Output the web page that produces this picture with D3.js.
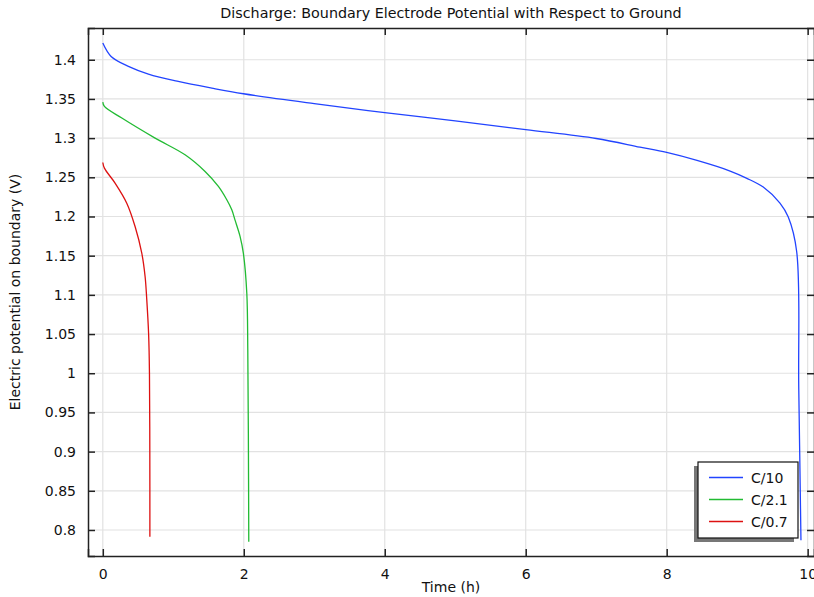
<!DOCTYPE html>
<html>
<head>
<meta charset="utf-8">
<script src="https://cdn.jsdelivr.net/npm/d3@7"></script>
<style>
  html, body { margin: 0; padding: 0; background: #fff; }
  svg { display: block; font-family: "DejaVu Sans", sans-serif; }
</style>
</head>
<body>
<svg id="chart" width="814" height="597"></svg>
<script>
// ---- Data ----
const seriesNames = ["C/10", "C/2.1", "C/0.7"];
const seriesColors = ["#2244ff", "#22bb33", "#dd1111"];

const c10Time = [0, 0.118, 0.363, 0.647, 1.07, 1.546, 1.995, 3, 4, 5, 6, 7, 7.62, 8, 8.43, 8.9, 9.13, 9.37, 9.607, 9.725, 9.844, 9.874, 9.905];
const c10Volt = [1.4213, 1.4042, 1.3915, 1.3817, 1.3723, 1.3638, 1.3566, 1.3440, 1.3325, 1.3220, 1.3108, 1.2995, 1.2885, 1.2817, 1.2715, 1.2580, 1.2490, 1.2375, 1.2170, 1.1992, 1.1553, 0.980, 0.787];

const c21Time = [0, 0.023, 0.27, 0.742, 1.167, 1.451, 1.64, 1.759, 1.83, 1.875, 1.948, 1.994, 2.043, 2.057, 2.065, 2.071];
const c21Volt = [1.346, 1.3404, 1.3256, 1.300, 1.2787, 1.2574, 1.2383, 1.2213, 1.2085, 1.1957, 1.1744, 1.1532, 1.1021, 1.0298, 0.9234, 0.785];

const c07Time = [0, 0.023, 0.174, 0.34, 0.458, 0.553, 0.6, 0.624, 0.65, 0.662, 0.667, 0.668];
const c07Volt = [1.2689, 1.2617, 1.2426, 1.2170, 1.1872, 1.1532, 1.1234, 1.0936, 1.050, 1.000, 0.900, 0.7915];

const xTicks = [0, 2, 4, 6, 8, 10];
const yTicks = [0.8, 0.85, 0.9, 0.95, 1, 1.05, 1.1, 1.15, 1.2, 1.25, 1.3, 1.35, 1.4];
const yTickLabels = ["0.8", "0.85", "0.9", "0.95", "1", "1.05", "1.1", "1.15", "1.2", "1.25", "1.3", "1.35", "1.4"];

const titleText = "Discharge: Boundary Electrode Potential with Respect to Ground";
const xLabel = "Time (h)";
const yLabel = "Electric potential on boundary (V)";

// ---- Layout ----
const L = 88, T = 28, R = 814, B = 556;
const FS = 14;
const svg = d3.select("#chart");

const x = d3.scaleLinear().domain([-0.21, 10.09]).range([L, R]);
const y = d3.scaleLinear().domain([0.7668, 1.4405]).range([B, T]);

// gridlines
const grid = svg.append("g");
grid.selectAll("line.gx").data(xTicks).enter().append("line")
  .attr("x1", d => x(d)).attr("x2", d => x(d)).attr("y1", T).attr("y2", B)
  .attr("stroke", "#e2e2e2").attr("stroke-width", 1.2);
grid.selectAll("line.gy").data(yTicks).enter().append("line")
  .attr("x1", L).attr("x2", R).attr("y1", d => y(d)).attr("y2", d => y(d))
  .attr("stroke", "#e2e2e2").attr("stroke-width", 1.2);

// series
const series = [
  { name: seriesNames[0], color: seriesColors[0], t: c10Time, v: c10Volt },
  { name: seriesNames[1], color: seriesColors[1], t: c21Time, v: c21Volt },
  { name: seriesNames[2], color: seriesColors[2], t: c07Time, v: c07Volt }
];
const line = d3.line().x(d => x(d[0])).y(d => y(d[1])).curve(d3.curveCatmullRom.alpha(0.5));
series.forEach(s => {
  const pts = s.t.map((t, i) => [t, s.v[i]]);
  svg.append("path").datum(pts)
    .attr("d", line)
    .attr("fill", "none").attr("stroke", s.color).attr("stroke-width", 1.3);
});

// axes (ticks inside)
const tickLen = 7;
const axisBottom = d3.axisBottom(x).tickValues(xTicks).tickSize(-tickLen).tickPadding(tickLen + 6).tickFormat(d3.format("d"));
const axisTop = d3.axisTop(x).tickValues(xTicks).tickSize(-tickLen).tickFormat("");
const axisLeft = d3.axisLeft(y).tickValues(yTicks).tickSize(-tickLen).tickPadding(tickLen + 5)
  .tickFormat((d, i) => yTickLabels[i]);
const axisRight = d3.axisRight(y).tickValues(yTicks).tickSize(-tickLen).tickFormat("");

function style(g) {
  g.selectAll(".domain").attr("stroke", "#222").attr("stroke-width", 1.5);
  g.selectAll(".tick line").attr("stroke", "#222").attr("stroke-width", 1.5);
  g.selectAll(".tick text").attr("fill", "#111").attr("font-size", FS).attr("font-family", "DejaVu Sans, sans-serif");
}
svg.append("g").attr("transform", `translate(0,${B})`).call(axisBottom).call(style);
svg.append("g").attr("transform", `translate(0,${T})`).call(axisTop).call(style);
svg.append("g").attr("transform", `translate(${L},0)`).call(axisLeft).call(style);
svg.append("g").attr("transform", `translate(${R},0)`).call(axisRight).call(style);

// title and labels
svg.append("text").attr("x", (L + R) / 2).attr("y", 18).attr("text-anchor", "middle")
  .attr("font-size", 14.3).attr("fill", "#111").text(titleText);
svg.append("text").attr("x", (L + R) / 2).attr("y", 592).attr("text-anchor", "middle")
  .attr("font-size", FS).attr("fill", "#111").text(xLabel);
svg.append("text").attr("transform", `translate(20,${(T + B) / 2}) rotate(-90)`).attr("text-anchor", "middle")
  .attr("font-size", FS).attr("fill", "#111").text(yLabel);

// legend
const lgX = 698, lgY = 462, lgW = 100, lgH = 76;
svg.append("rect").attr("x", lgX - 4).attr("y", lgY + 4).attr("width", lgW).attr("height", lgH).attr("fill", "#777");
svg.append("rect").attr("x", lgX).attr("y", lgY).attr("width", lgW).attr("height", lgH)
  .attr("fill", "#fff").attr("stroke", "#111").attr("stroke-width", 1.2);
series.forEach((s, i) => {
  const cy = 477.5 + i * 22;
  svg.append("line").attr("x1", 709).attr("x2", 743).attr("y1", cy).attr("y2", cy)
    .attr("stroke", s.color).attr("stroke-width", 1.3);
  svg.append("text").attr("x", 751).attr("y", cy + 5).attr("font-size", FS).attr("fill", "#111").text(s.name);
});
</script>
</body>
</html>
